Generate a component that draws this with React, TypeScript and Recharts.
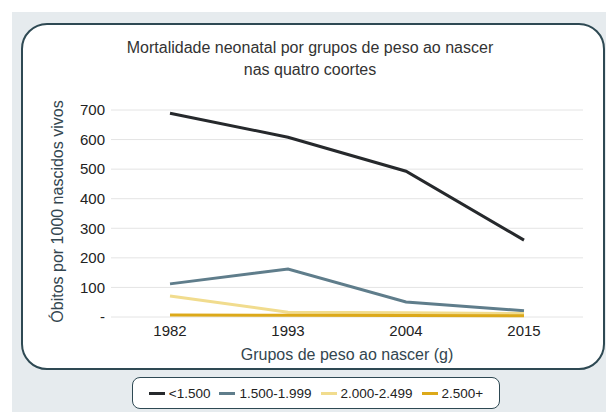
import React from "react";
import {
  LineChart,
  Line,
  XAxis,
  YAxis,
  CartesianGrid,
} from "recharts";

const years = ["1982", "1993", "2004", "2015"];
const under1500 = [689, 608, 493, 260];
const from1500 = [112, 162, 51, 21];
const from2000 = [71, 16, 14, 12];
const over2500 = [7, 6, 5, 4];

const yTicks = [0, 100, 200, 300, 400, 500, 600, 700];

const SERIES = [
  { key: "a", name: "<1.500", values: under1500, color: "#26292c" },
  { key: "b", name: "1.500-1.999", values: from1500, color: "#5f7d8b" },
  { key: "c", name: "2.000-2.499", values: from2000, color: "#f1dc8e" },
  { key: "d", name: "2.500+", values: over2500, color: "#dca91a" },
];

const FONT = "'Liberation Sans', Arial, Helvetica, sans-serif";

const data = years.map((year, i) => {
  const row: Record<string, string | number> = { year };
  SERIES.forEach((s) => {
    row[s.key] = s.values[i];
  });
  return row;
});

export default function App() {
  return (
    <div
      style={{
        position: "absolute",
        left: 0,
        top: 0,
        width: 606,
        height: 412,
        background: "#fff",
        overflow: "hidden",
        fontFamily: FONT,
      }}
    >
      {/* grey panel */}
      <div
        style={{
          position: "absolute",
          left: 12,
          top: 12,
          right: 0,
          bottom: 0,
          background: "#e6ebee",
        }}
      />
      {/* card */}
      <div
        style={{
          position: "absolute",
          left: 21,
          top: 23,
          width: 580,
          height: 343,
          background: "#fff",
          border: "2.5px solid #2e4953",
          borderRadius: 26,
        }}
      />
      <div
        style={{
          position: "absolute",
          left: 0,
          width: 620,
          top: 37,
          textAlign: "center",
          fontSize: 16,
          lineHeight: "22px",
          color: "#333",
        }}
      >
        Mortalidade neonatal por grupos de peso ao nascer
        <br />
        nas quatro coortes
      </div>

      <div style={{ position: "absolute", left: 0, top: 0 }}>
        <LineChart
          width={606}
          height={412}
          data={data}
          margin={{ top: 110, right: 23, bottom: 65, left: 51 }}
        >
          <CartesianGrid
            vertical={false}
            stroke="#e4e4e4"
            strokeWidth={1}
          />
          <XAxis
            dataKey="year"
            scale="band"
            height={30}
            axisLine={false}
            tickLine={false}
            tick={{ fill: "#222", fontSize: 15, fontFamily: FONT }}
            label={{
              value: "Grupos de peso ao nascer (g)",
              position: "insideBottom",
              offset: -13,
              style: { fill: "#33464f", fontSize: 16, fontFamily: FONT },
            }}
          />
          <YAxis
            width={60}
            domain={[0, 700]}
            ticks={yTicks}
            interval={0}
            axisLine={false}
            tickLine={false}
            tickSize={6}
            tickMargin={0}
            tickFormatter={(v: number) => (v === 0 ? "-" : String(v))}
            tick={{ fill: "#222", fontSize: 15, fontFamily: FONT }}
            label={{
              value: "Óbitos por 1000 nascidos vivos",
              angle: -90,
              position: "insideLeft",
              offset: 0,
              dx: 6,
              dy: -2,
              style: {
                fill: "#33464f",
                fontSize: 16,
                fontFamily: FONT,
                textAnchor: "middle",
              },
            }}
          />
          {SERIES.map((s) => (
            <Line
              key={s.key}
              type="linear"
              dataKey={s.key}
              name={s.name}
              stroke={s.color}
              strokeWidth={3}
              dot={false}
              activeDot={false}
              isAnimationActive={false}
            />
          ))}
        </LineChart>
      </div>

      {/* legend */}
      <div
        style={{
          position: "absolute",
          left: 132,
          top: 377,
          width: 366,
          height: 30,
          background: "#fff",
          border: "1.5px solid #2e4953",
          borderRadius: 8,
          display: "flex",
          alignItems: "center",
          justifyContent: "center",
          gap: 9,
          fontSize: 13.5,
          color: "#222",
        }}
      >
        {SERIES.map((s) => (
          <div key={s.key} style={{ display: "flex", alignItems: "center" }}>
            <span
              style={{
                display: "inline-block",
                width: 16,
                height: 3,
                background: s.color,
                marginRight: 4,
              }}
            />
            <span>{s.name}</span>
          </div>
        ))}
      </div>
    </div>
  );
}
